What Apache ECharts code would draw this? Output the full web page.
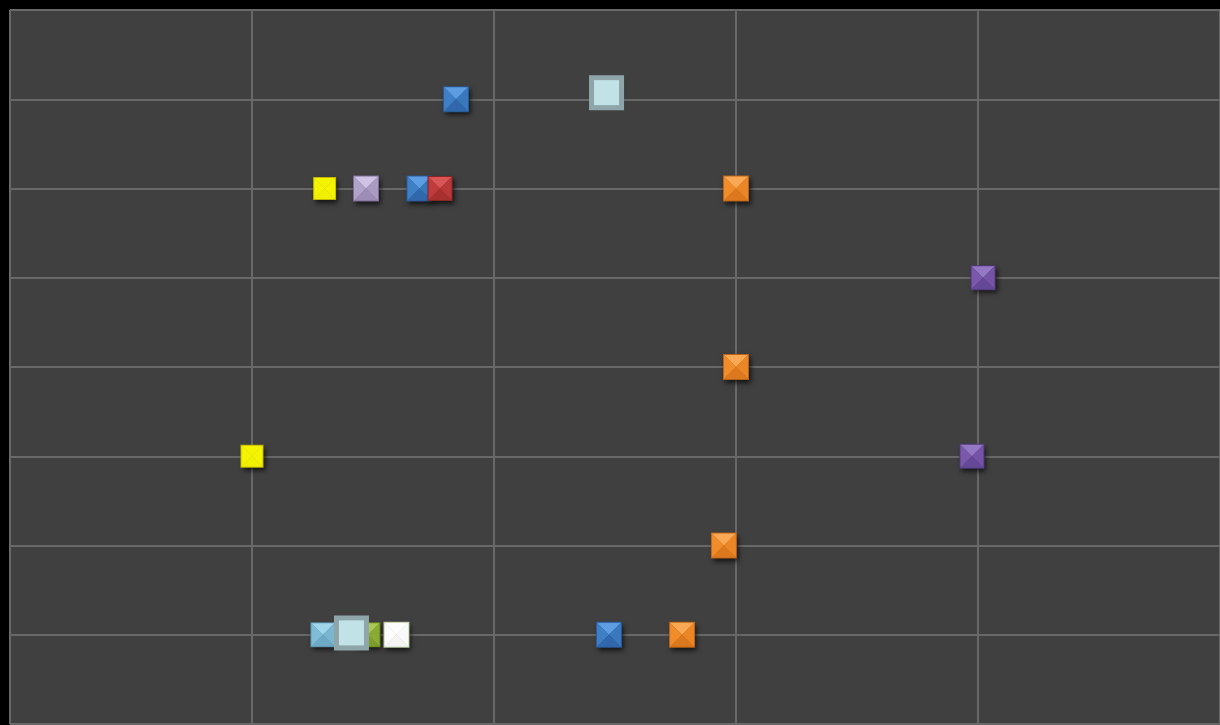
<!DOCTYPE html>
<html>
<head>
<meta charset="utf-8">
<script src="https://cdn.jsdelivr.net/npm/echarts@6/dist/echarts.min.js"></script>
<style>
  html, body { margin: 0; padding: 0; background: #000; }
  #main { width: 1220px; height: 725px; }
</style>
</head>
<body>
<div id="main"></div>
<script>
// values
const blueX = [1.843, 1.692, 2.475]
const blueY = [7, 6, 1]
const orangeX = [3.0, 3.0, 2.95, 2.777]
const orangeY = [6, 4, 2, 1]
const purpleX = [4.021, 3.975]
const purpleY = [5, 3]
const yellowX = [1.3, 1.0]
const yellowY = [6, 3]
const lavenderX = [1.471]
const lavenderY = [6]
const redX = [1.777]
const redY = [6]
const lightBlueX = [1.293]
const lightBlueY = [1]
const greenX = [1.479]
const greenY = [1]
const whiteX = [1.597]
const whiteY = [1]
const highlightX = [2.465, 1.411]
const highlightY = [7.074, 1.021]

const xTicks = [0, 1, 2, 3, 4, 5]
const yTicks = [0, 1, 2, 3, 4, 5, 6, 7, 8]

const zip = (xs, ys) => xs.map((x, i) => [x, ys[i]])

// facet colours: top, left, right, bottom, edge
const looks = {
  blue: ['#5e9de2', '#3f7fc6', '#3a78be', '#3168ac', '#2a5a96'],
  orange: ['#f9a855', '#f08c2a', '#ea8626', '#dc781e', '#b86418'],
  purple: ['#9478c4', '#7a58ac', '#7452a6', '#664898', '#503a78'],
  yellow: ['#f4f400', '#f4f400', '#f4f400', '#f0f000', '#c0b800'],
  lavender: ['#cfc2e2', '#b0a2c8', '#a99bc2', '#9c8cb6', '#7d6e98'],
  red: ['#d85656', '#c03c3c', '#b93838', '#a83030', '#882626'],
  lightBlue: ['#a0d6ec', '#80bcd6', '#7ab6d0', '#6eaac6', '#5890a8'],
  green: ['#aac856', '#90b038', '#8aaa34', '#7e9e2c', '#688820'],
  white: ['#ffffff', '#fcfcfc', '#fafafa', '#f4f4f4', '#b8c8a0']
}

function pyramid (look, size) {
  return function (params, api) {
    const c = api.coord([api.value(0), api.value(1)])
    const h = size / 2
    const x0 = c[0] - h, x1 = c[0] + h, y0 = c[1] - h, y1 = c[1] + h
    const m = [c[0], c[1]]
    return {
      type: 'group',
      children: [
        { type: 'rect', shape: { x: x0, y: y0, width: size, height: size },
          style: { fill: look[4], shadowBlur: 5, shadowOffsetX: 2, shadowOffsetY: 3, shadowColor: 'rgba(0,0,0,0.7)' } },
        { type: 'polygon', shape: { points: [[x0 + 1, y0 + 1], [x1 - 1, y0 + 1], m] }, style: { fill: look[0] } },
        { type: 'polygon', shape: { points: [[x0 + 1, y0 + 1], m, [x0 + 1, y1 - 1]] }, style: { fill: look[1] } },
        { type: 'polygon', shape: { points: [[x1 - 1, y0 + 1], [x1 - 1, y1 - 1], m] }, style: { fill: look[2] } },
        { type: 'polygon', shape: { points: [[x0 + 1, y1 - 1], m, [x1 - 1, y1 - 1]] }, style: { fill: look[3] } }
      ]
    }
  }
}

function boxed (params, api) {
  const c = api.coord([api.value(0), api.value(1)])
  const s = 35
  return {
    type: 'group',
    children: [
      { type: 'rect', shape: { x: c[0] - s / 2, y: c[1] - s / 2, width: s, height: s }, style: { fill: '#8ea6a9' } },
      { type: 'rect', shape: { x: c[0] - s / 2 + 5, y: c[1] - s / 2 + 5, width: s - 10, height: s - 10 }, style: { fill: '#c1e3e7' } }
    ]
  }
}

const layers = [
  ['blue', blueX, blueY, 26],
  ['orange', orangeX, orangeY, 26],
  ['purple', purpleX, purpleY, 25],
  ['yellow', yellowX, yellowY, 23],
  ['lavender', lavenderX, lavenderY, 26],
  ['lightBlue', lightBlueX, lightBlueY, 25],
  ['green', greenX, greenY, 25],
  ['white', whiteX, whiteY, 26],
  ['red', redX, redY, 25]
]

const series = layers.map(function (l) {
  return {
    name: l[0],
    type: 'custom',
    renderItem: pyramid(looks[l[0]], l[3]),
    data: zip(l[1], l[2])
  }
})
series.push({ name: 'highlight', type: 'custom', renderItem: boxed, data: zip(highlightX, highlightY) })

var myChart = echarts.init(document.getElementById('main'))
var option = {
  backgroundColor: '#000000',
  animation: false,
  grid: {
    left: 10, top: 10, right: 0, bottom: 1,
    show: true, backgroundColor: '#404040', borderWidth: 0
  },
  xAxis: {
    type: 'value',
    position: 'top',
    min: xTicks[0],
    max: xTicks[xTicks.length - 1],
    interval: 1,
    axisLine: { show: false },
    axisTick: { show: true, length: 6, lineStyle: { color: '#686868', width: 2 } },
    axisLabel: { show: false },
    splitLine: { show: true, lineStyle: { color: '#686868', width: 2 } }
  },
  yAxis: {
    type: 'value',
    min: yTicks[0],
    max: yTicks[yTicks.length - 1],
    interval: 1,
    axisLine: { show: false },
    axisTick: { show: false },
    axisLabel: { show: false },
    splitLine: { show: true, lineStyle: { color: '#686868', width: 2 } }
  },
  series: series
}
myChart.setOption(option)
</script>
</body>
</html>
